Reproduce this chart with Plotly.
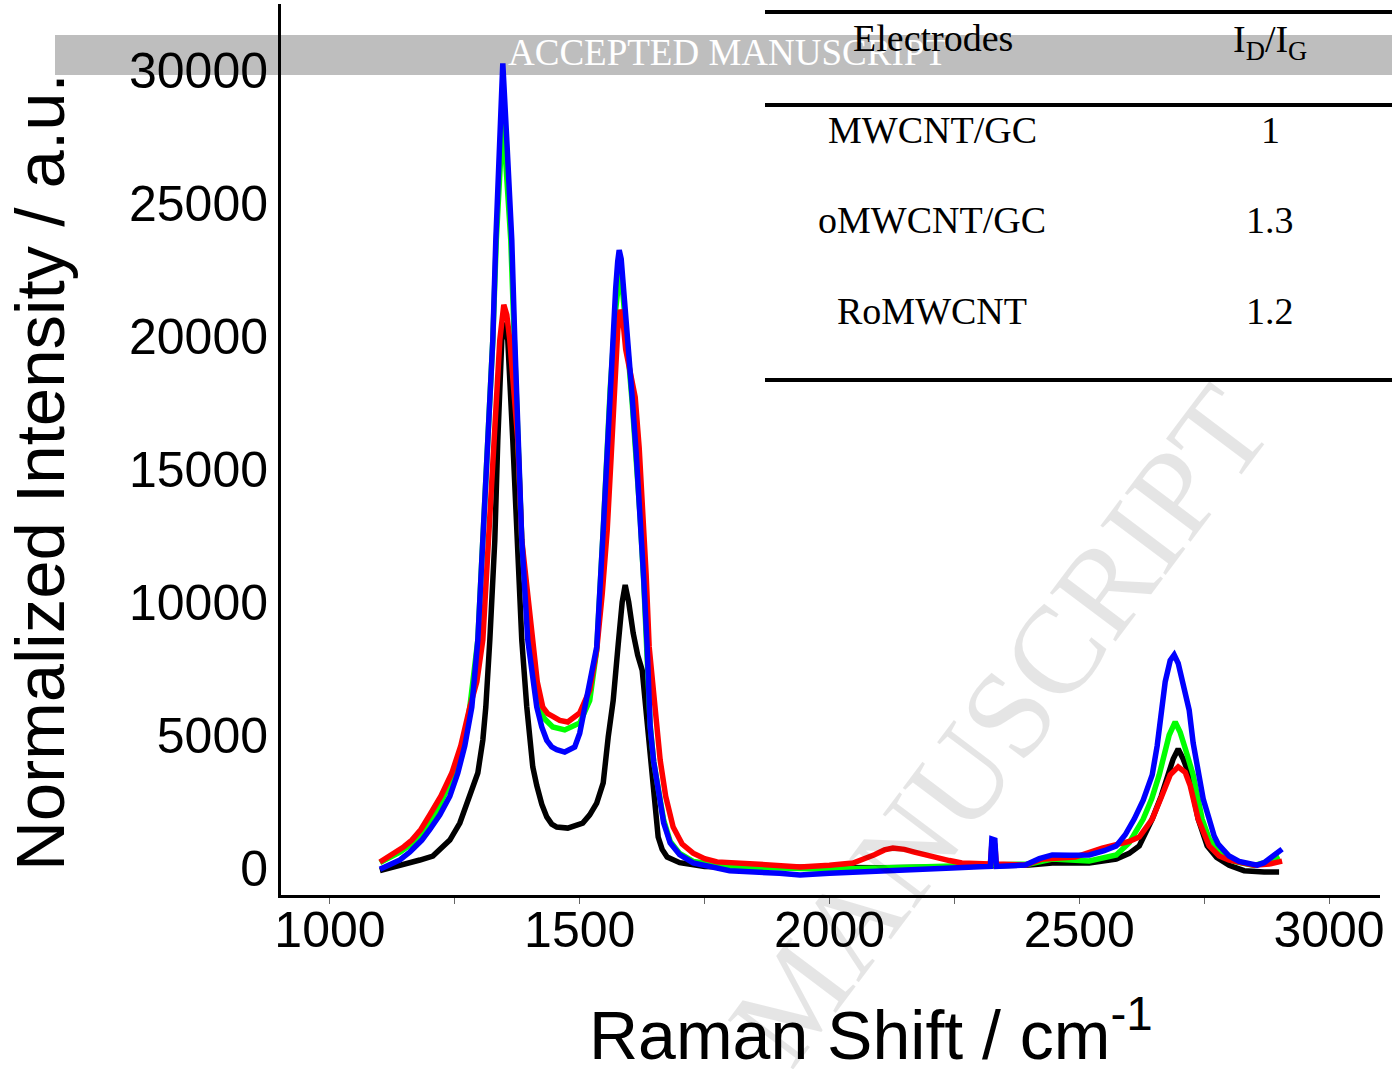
import plotly.graph_objects as go

# ---- Raman spectra (shift in cm^-1, normalized intensity in a.u.) ----
black_shift = [1100, 1146, 1180, 1206, 1240, 1260, 1282, 1296, 1306, 1312, 1320, 1330, 1336, 1344, 1350,
               1356, 1366, 1374, 1384, 1394, 1400, 1406, 1414, 1424, 1434, 1444, 1454, 1476, 1506, 1520,
               1534, 1547, 1557, 1567, 1577, 1585, 1591, 1598, 1607, 1616, 1625, 1635, 1645, 1651, 1657,
               1665, 1675, 1700, 1750, 1800, 1900, 2000, 2100, 2200, 2300, 2400, 2446, 2520, 2574, 2600,
               2620, 2646, 2664, 2678, 2688, 2698, 2708, 2720, 2738, 2756, 2775, 2800, 2830, 2870, 2900]
black_intensity = [-100, 110, 300, 450, 1050, 1690, 2900, 3570, 4810, 6050, 8570, 12330, 16090, 19850, 20500,
                   19850, 16090, 12330, 8570, 6050, 4800, 3800, 3100, 2400, 1920, 1650, 1540, 1500, 1690, 2000,
                   2440, 3200, 4920, 6300, 8400, 10000, 10640, 10000, 8830, 8000, 7440, 5300, 3420, 2200, 1165,
                   700, 410, 200, 60, 40, 20, 0, 10, 30, 60, 110, 190, 190, 340, 550,
                   830, 1840, 2700, 3500, 4100, 4470, 4100, 3500, 1840, 830, 400, 100, -100, -150, -150]

green_shift = [1100, 1120, 1140, 1174, 1210, 1250, 1268, 1280, 1296, 1306, 1316, 1326, 1333, 1340, 1346,
               1352, 1362, 1369, 1376, 1384, 1398, 1416, 1430, 1446, 1470, 1500, 1520, 1534, 1547, 1554,
               1561, 1572, 1576, 1580, 1584, 1590, 1597, 1605, 1613, 1621, 1628, 1635, 1641, 1648, 1657,
               1668, 1681, 1700, 1727, 1800, 1900, 2000, 2100, 2200, 2300, 2400, 2446, 2520, 2574, 2600,
               2628, 2645, 2660, 2670, 2680, 2692, 2702, 2712, 2720, 2728, 2746, 2760, 2780, 2810, 2850,
               2880, 2900]
green_intensity = [200, 400, 600, 1050, 2000, 3570, 4700, 6050, 8570, 12330, 16090, 19850, 23600, 26500, 28230,
                   26500, 23600, 19850, 16090, 12330, 8570, 6050, 5600, 5300, 5190, 5450, 6300, 8200, 12700, 15300,
                   18000, 21000, 22000, 22370, 22100, 21000, 19300, 17500, 15500, 13200, 10800, 8200, 5400, 4000, 2900,
                   1800, 1000, 550, 250, 50, 0, -50, 0, 50, 80, 150, 340, 265, 490, 950,
                   1840, 2600, 3500, 4300, 5000, 5490, 5100, 4500, 4000, 3500, 1840, 1100, 600, 250, 100,
                   250, 450]

red_shift = [1100, 1115, 1130, 1148, 1164, 1182, 1200, 1222, 1244, 1262, 1280, 1294, 1306, 1318, 1330,
             1340, 1348, 1354, 1360, 1368, 1376, 1384, 1404, 1415, 1426, 1436, 1446, 1460, 1476, 1500,
             1520, 1534, 1545, 1555, 1563, 1571, 1576, 1581, 1586, 1592, 1600, 1611, 1619, 1627, 1633,
             1639, 1647, 1654, 1661, 1672, 1687, 1705, 1727, 1750, 1775, 1850, 1941, 2000, 2047, 2090,
             2110, 2127, 2150, 2170, 2190, 2209, 2240, 2265, 2300, 2322, 2325, 2331, 2334, 2392, 2427,
             2492, 2546, 2600, 2620, 2646, 2665, 2682, 2698, 2712, 2722, 2738, 2760, 2780, 2800, 2850,
             2880, 2906]
red_intensity = [225, 400, 600, 800, 1050, 1450, 2000, 2700, 3570, 4600, 6050, 7000, 8570, 12330, 16090,
                 19850, 21170, 20800, 19850, 18000, 16090, 12330, 8570, 7000, 6050, 5800, 5700, 5550, 5490, 5830,
                 6690, 8200, 10300, 12700, 15500, 18350, 20200, 20980, 20700, 19500, 18800, 17700, 15800, 13350, 11000,
                 8310, 6580, 5200, 4060, 2700, 1540, 900, 560, 350, 230, 150, 40, 100, 190, 500,
                 680, 750, 700, 600, 500, 410, 280, 190, 150, 150, 900, 850, 150, 110, 340,
                 410, 750, 1000, 1165, 1840, 2700, 3500, 3800, 3600, 3100, 1840, 830, 450, 300, 100,
                 150, 260]

blue_shift = [1100, 1120, 1140, 1160, 1184, 1200, 1220, 1240, 1256, 1270, 1284, 1296, 1306, 1316, 1326,
              1332, 1340, 1346, 1354, 1364, 1370, 1376, 1384, 1396, 1405, 1414, 1424, 1434, 1444, 1454,
              1470, 1490, 1500, 1514, 1534, 1547, 1554, 1561, 1572, 1576, 1579, 1583, 1588, 1596, 1605,
              1613, 1621, 1628, 1635, 1641, 1648, 1657, 1668, 1681, 1700, 1727, 1800, 1900, 1941, 2000,
              2065, 2150, 2245, 2300, 2322, 2325, 2331, 2334, 2392, 2420, 2446, 2480, 2520, 2550, 2574,
              2592, 2610, 2628, 2646, 2656, 2664, 2672, 2682, 2690, 2698, 2706, 2714, 2720, 2728, 2738,
              2748, 2760, 2770, 2778, 2800, 2820, 2840, 2856, 2870, 2880, 2895, 2906]
blue_intensity = [-50, 100, 300, 600, 1050, 1450, 2000, 2700, 3570, 4600, 6050, 8570, 12330, 16090, 19850,
                  23600, 27370, 30250, 27370, 23600, 19850, 16090, 12330, 8570, 7100, 6050, 5300, 4800, 4550, 4450,
                  4360, 4550, 5070, 6320, 8310, 12700, 15500, 18350, 21800, 22800, 23230, 22900, 21800, 19800, 17700,
                  15600, 13350, 10900, 8310, 5300, 4000, 2820, 1700, 940, 500, 190, -100, -200, -260, -200,
                  -150, -120, 0, 50, 60, 1090, 1050, 60, 110, 350, 490, 480, 490, 650, 830,
                  1250, 1840, 2550, 3500, 4600, 5940, 7000, 7800, 8010, 7700, 7000, 6300, 5940, 4700, 3500,
                  2600, 1840, 1200, 900, 450, 250, 150, 110, 200, 350, 550, 710]

# ---- I_D/I_G table ----
electrodes = ["MWCNT/GC", "oMWCNT/GC", "RoMWCNT"]
id_ig = ["1", "1.3", "1.2"]

# ---- canvas geometry ----
W, H = 1392, 1069
L, R, T, B = 281, 12, 4, 174
PW, PH = W - L - R, H - T - B


def px(xp):
    return (xp - L) / PW


def py(yp):
    return (H - B - yp) / PH


SANS = "Liberation Sans, Arial, sans-serif"
SERIF = "Liberation Serif, Times New Roman, serif"

fig = go.Figure()
for xs, ys, col in [(black_shift, black_intensity, "#000000"),
                    (green_shift, green_intensity, "#00ff00"),
                    (red_shift, red_intensity, "#ff0000"),
                    (blue_shift, blue_intensity, "#0000ff")]:
    fig.add_trace(go.Scatter(x=xs, y=ys, mode="lines",
                             line=dict(color=col, width=5.5), showlegend=False))

fig.update_layout(
    width=W, height=H,
    margin=dict(l=L, r=R, t=T, b=B),
    paper_bgcolor="white", plot_bgcolor="white",
    showlegend=False,
)
fig.update_xaxes(
    range=[902, 3102], showline=True, linewidth=3, linecolor="black",
    showgrid=False, zeroline=False,
    ticks="outside", ticklen=6, tickwidth=1, tickcolor="#666",
    tick0=1000, dtick=500, ticklabelstandoff=-17,
    minor=dict(ticks="outside", ticklen=6, tickwidth=1, tickcolor="#666", tick0=1000, dtick=250),
    tickfont=dict(family=SANS, size=50, color="black"),
)
fig.update_yaxes(
    range=[-1015, 32481], showline=True, linewidth=3, linecolor="black",
    showgrid=False, zeroline=False, ticks="",
    tick0=0, dtick=5000, tickformat="d", ticklabelstandoff=0,
    tickfont=dict(family=SANS, size=50, color="black"),
)

shapes = [
    # grey banner
    dict(type="rect", xref="paper", yref="paper", x0=px(55), x1=px(1392), y0=py(75), y1=py(35),
         fillcolor="#bebebe", line=dict(width=0), layer="below"),
]
for yline in (12, 105, 380):
    shapes.append(dict(type="line", xref="paper", yref="paper", x0=px(765), x1=px(1392),
                       y0=py(yline), y1=py(yline), line=dict(color="black", width=4), layer="above"))
fig.update_layout(shapes=shapes)


def label(text, xp, yp, size, family, color="black", angle=0):
    return dict(text=text, xref="paper", yref="paper", x=px(xp), y=py(yp),
                xanchor="center", yanchor="middle", showarrow=False, textangle=angle,
                font=dict(family=family, size=size, color=color))


ann = [
    # diagonal watermark
    label("MANUSCRIPT", 1000, 725, 125, SERIF, "rgba(0,0,0,0.10)", -53),
    # banner text
    label("ACCEPTED MANUSCRIPT", 727, 53, 37, SERIF, "white"),
    # table header
    label("Electrodes", 933, 38, 38, SERIF),
    label("I<sub>D</sub>/I<sub>G</sub>", 1270, 42, 38, SERIF),
]
for i, (e, v) in enumerate(zip(electrodes, id_ig)):
    yrow = 130 + i * 90.5
    ann.append(label(e, 932, yrow, 38, SERIF))
    ann.append(label(v, 1270, yrow, 38, SERIF))
# axis titles
ann.append(label("Normalized Intensity / a.u.", 40, 472, 69, SANS, angle=-90))
ann.append(label("Raman Shift / cm<sup>-1</sup>", 871, 1030, 68, SANS))
fig.update_layout(annotations=ann)

fig.write_html("out.html")
